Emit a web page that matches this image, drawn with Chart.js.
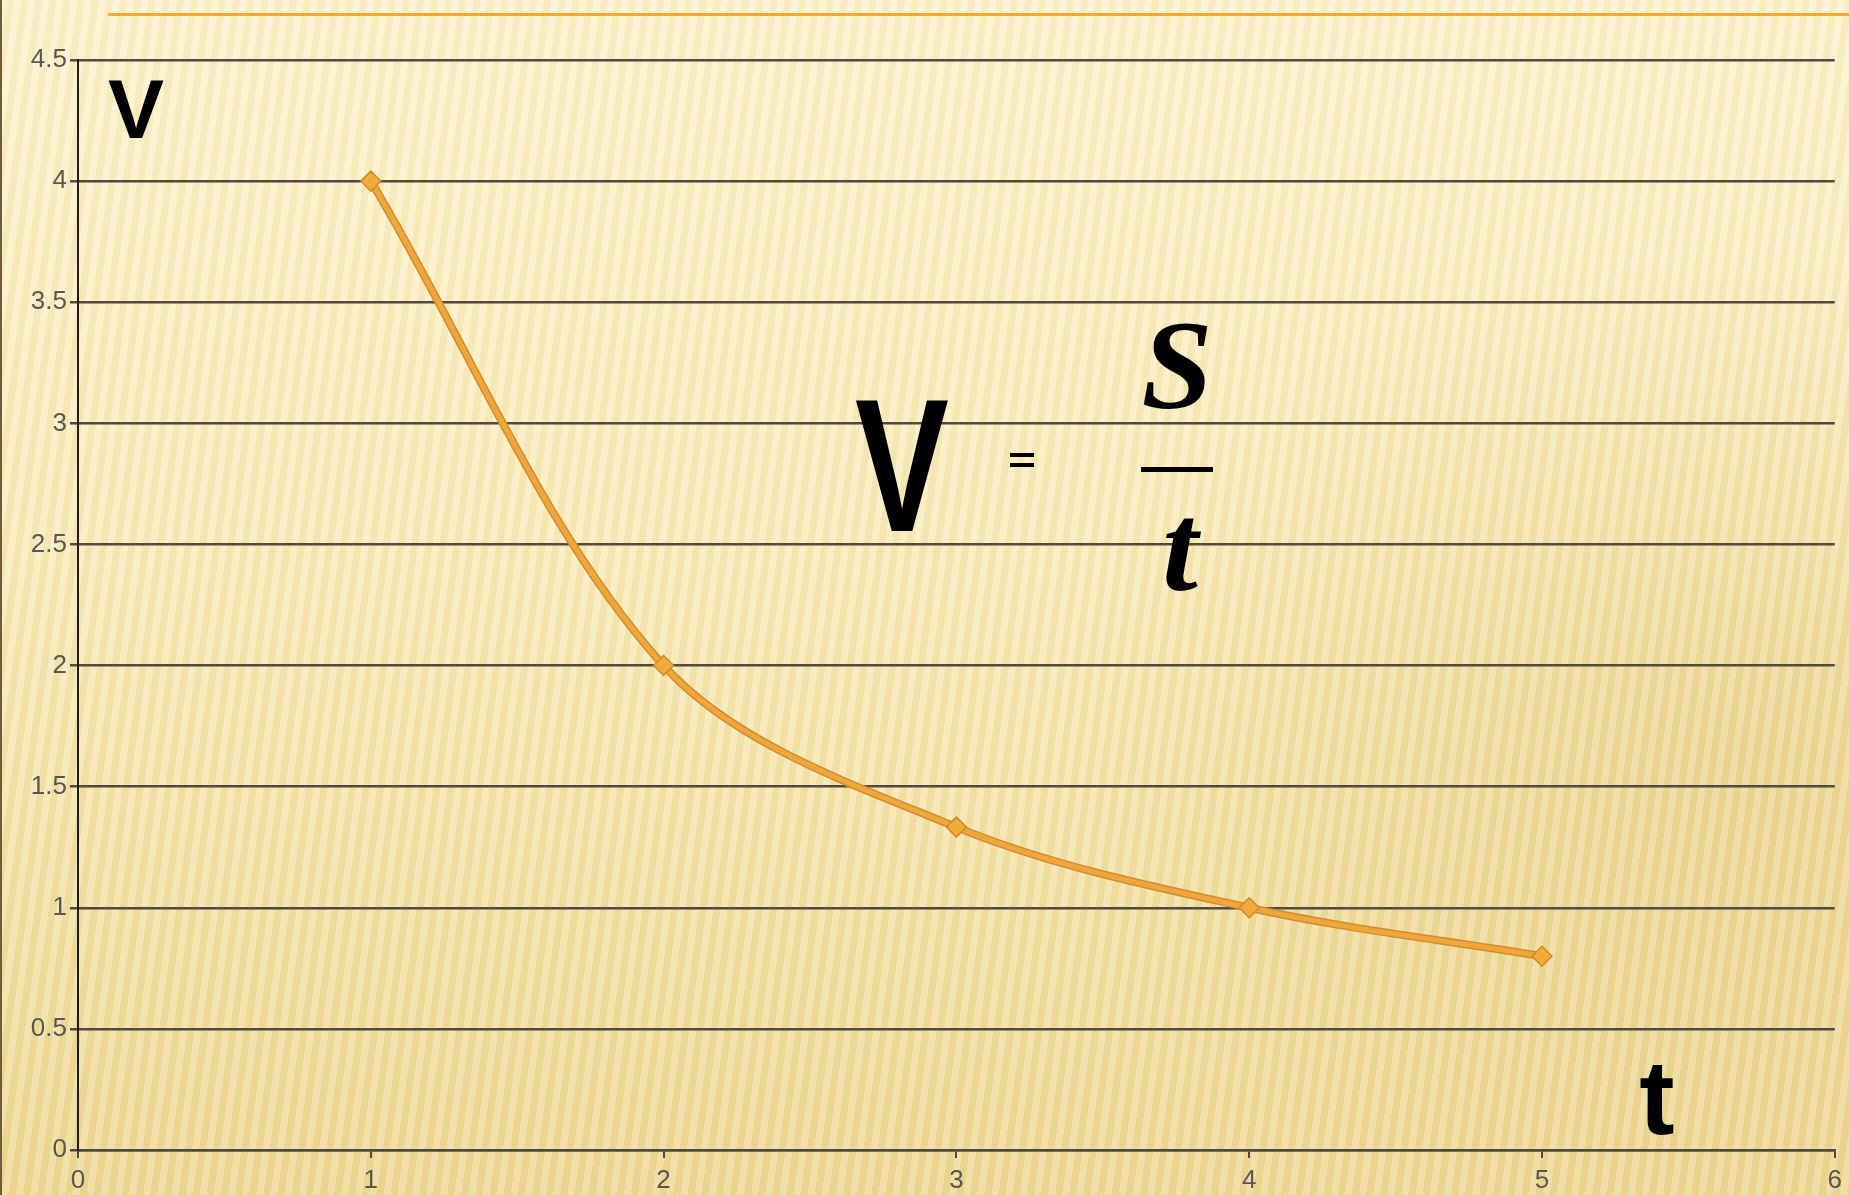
<!DOCTYPE html>
<html>
<head>
<meta charset="utf-8">
<script src="https://cdn.jsdelivr.net/npm/chart.js@4.4.1/dist/chart.umd.min.js"></script>
<style>
  html, body { margin: 0; padding: 0; }
  body {
    width: 1849px; height: 1195px; overflow: hidden; position: relative;
    background:
      repeating-linear-gradient(98deg, rgba(255,255,255,0.18) 0px, rgba(255,255,255,0.18) 7px, rgba(190,150,50,0.07) 7px, rgba(190,150,50,0.07) 14px),
      radial-gradient(ellipse 700px 500px at 1750px 750px, rgba(215,180,90,0.30), rgba(215,180,90,0) 100%),
      linear-gradient(to bottom, #fcf2cc 0%, #f9ebb9 45%, #eed894 100%);
  }
  #edge { position: absolute; left: 0; top: 0; width: 2px; height: 1195px; background: #6e5b38; }
  #wrap { position: absolute; left: 0; top: 0; width: 1849px; height: 1195px; }
</style>
</head>
<body>
<div id="edge"></div>
<div id="wrap"><canvas id="myChart" width="1849" height="1195"></canvas></div>
<script>
// time t and speed V = S / t
const tValues = [1, 2, 3, 4, 5];
const vValues = [4, 2, 1.333, 1, 0.8];

const points = tValues.map((t, i) => ({ x: t, y: vValues[i] }));

const gridColor = '#4f4b3e';
const tickFont = { family: 'Liberation Sans, Arial, sans-serif', size: 26 };

const annotations = {
  id: 'annotations',
  afterDraw(chart) {
    const ctx = chart.ctx;
    ctx.save();

    // top orange rule
    ctx.fillStyle = '#f2a735';
    ctx.fillRect(108, 13, 1741, 3);
    ctx.fillStyle = '#000';

    ctx.textAlign = 'center';
    ctx.textBaseline = 'alphabetic';

    // axis letters
    ctx.font = 'bold 84px "Liberation Sans", Arial, sans-serif';
    ctx.fillText('V', 136, 138);
    ctx.font = 'bold 106px "Liberation Sans", Arial, sans-serif';
    ctx.fillText('t', 1657, 1134);

    // formula V = S / t
    ctx.save();
    ctx.translate(902, 531);
    ctx.scale(0.74, 1);
    ctx.font = 'bold 190px "Liberation Sans", Arial, sans-serif';
    ctx.fillText('V', 0, 0);
    ctx.restore();

    ctx.fillRect(1010, 453, 24, 4);
    ctx.fillRect(1010, 463, 24, 4);

    ctx.font = 'italic bold 128px "Liberation Serif", "DejaVu Serif", serif';
    ctx.fillText('S', 1177, 408);
    ctx.fillRect(1141, 467, 72, 5);
    ctx.fillText('t', 1180, 590);

    ctx.restore();
  }
};

new Chart(document.getElementById('myChart'), {
  type: 'line',
  data: {
    datasets: [{
      data: points,
      borderColor: '#f0a638',
      backgroundColor: '#f0a832',
      borderWidth: 5,
      tension: 0.33,
      pointStyle: 'rectRot',
      pointRadius: 10,
      pointBorderColor: '#d08a2c',
      pointBorderWidth: 1.5,
      pointBackgroundColor: '#f2aa38',
      order: 1
    }, {
      // darker rim under the orange line
      data: points,
      borderColor: '#cf8d36',
      borderWidth: 8,
      tension: 0.33,
      pointRadius: 0,
      order: 2
    }]
  },
  options: {
    responsive: false,
    animation: false,
    layout: { padding: { top: 60, right: 9, left: 0, bottom: 0 } },
    plugins: { legend: { display: false }, tooltip: { enabled: false } },
    scales: {
      x: {
        type: 'linear',
        min: 0,
        max: 6,
        ticks: { stepSize: 1, color: '#5a5750', font: tickFont, padding: 7 },
        grid: { drawOnChartArea: false, drawTicks: true, tickLength: 8, color: gridColor, lineWidth: 2 },
        border: { display: true, color: gridColor, width: 2.5 },
        afterFit(scale) { scale.height = 45; }
      },
      y: {
        min: 0,
        max: 4.5,
        ticks: { stepSize: 0.5, color: '#5a5750', font: tickFont, padding: 3, callback: (v) => String(v) },
        grid: { color: gridColor, lineWidth: 2.5, tickLength: 8, tickColor: gridColor },
        border: { display: true, color: '#1e1e1e', width: 2 },
        afterFit(scale) { scale.width = 78; }
      }
    }
  },
  plugins: [annotations]
});
</script>
</body>
</html>
